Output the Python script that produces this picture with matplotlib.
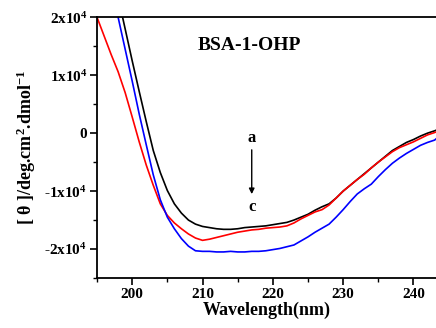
import matplotlib
matplotlib.use('Agg')
import matplotlib.pyplot as plt
from matplotlib.ticker import MultipleLocator, FixedLocator

plt.rcParams['font.family'] = 'Liberation Serif'
plt.rcParams['font.weight'] = 'bold'
plt.rcParams['mathtext.fontset'] = 'custom'
plt.rcParams['mathtext.rm'] = 'Liberation Serif:bold'
plt.rcParams['mathtext.it'] = 'Liberation Serif:bold'
plt.rcParams['mathtext.bf'] = 'Liberation Serif:bold'

# wavelength (nm)
wl = [195, 196, 197, 198, 199, 200, 201, 202, 203, 204, 205, 206, 207, 208, 209,
      210, 211, 212, 213, 214, 215, 216, 217, 218, 219, 220, 221, 222, 223, 224,
      225, 226, 227, 228, 229, 230, 231, 232, 233, 234, 235, 236, 237, 238, 239,
      240, 241, 242, 243, 243.2]

# ellipticity in units of 1e4 deg.cm2.dmol-1
curve_a = [4.0, 3.45, 2.9, 2.35, 1.8, 1.25, 0.72, 0.2, -0.3, -0.68, -0.99, -1.22, -1.38, -1.5, -1.57,
           -1.61, -1.63, -1.65, -1.66, -1.66, -1.65, -1.63, -1.62, -1.61, -1.6, -1.58, -1.56, -1.54, -1.5, -1.45,
           -1.4, -1.33, -1.27, -1.22, -1.12, -1.0, -0.9, -0.8, -0.7, -0.6, -0.5, -0.4, -0.3, -0.23, -0.16,
           -0.11, -0.05, 0.0, 0.04, 0.05]
curve_b = [2.0, 1.68, 1.36, 1.06, 0.7, 0.28, -0.15, -0.55, -0.9, -1.22, -1.42, -1.55, -1.65, -1.74, -1.81,
           -1.85, -1.83, -1.8, -1.77, -1.74, -1.71, -1.69, -1.67, -1.66, -1.64, -1.63, -1.62, -1.6, -1.55, -1.48,
           -1.42, -1.36, -1.32, -1.24, -1.12, -1.0, -0.9, -0.8, -0.71, -0.6, -0.5, -0.41, -0.32, -0.25, -0.2,
           -0.15, -0.09, -0.03, 0.01, 0.02]
curve_c = [3.65, 3.1, 2.55, 2.0, 1.45, 0.9, 0.33, -0.2, -0.72, -1.15, -1.45, -1.65, -1.82, -1.95, -2.03,
           -2.04, -2.04, -2.05, -2.05, -2.04, -2.05, -2.05, -2.04, -2.04, -2.03, -2.01, -1.99, -1.96, -1.93, -1.86,
           -1.79, -1.71, -1.64, -1.57, -1.45, -1.32, -1.18, -1.05, -0.96, -0.88, -0.75, -0.63, -0.52, -0.43, -0.35,
           -0.28, -0.21, -0.16, -0.12, -0.1]

y_ticks = [-2e4, -1e4, 0, 1e4, 2e4]
y_labels = [r'-2x10$^4$', r'-1x10$^4$', '0', r'1x10$^4$', r'2x10$^4$']

fig = plt.figure(figsize=(4.36, 3.28), dpi=100)
ax = fig.add_axes([0.2225, 0.1524, 0.7775, 0.795])

ax.plot(wl, [v * 1e4 for v in curve_a], color='black', lw=1.2)
ax.plot(wl, [v * 1e4 for v in curve_b], color='red', lw=1.2)
ax.plot(wl, [v * 1e4 for v in curve_c], color='blue', lw=1.2)

ax.set_xlim(195, 243.2)
ax.set_ylim(-2.5e4, 2e4)
ax.spines['right'].set_visible(False)
for s in ['left', 'bottom', 'top']:
    ax.spines[s].set_linewidth(1.3)

ax.xaxis.set_major_locator(MultipleLocator(10))
ax.xaxis.set_minor_locator(MultipleLocator(5))
ax.yaxis.set_major_locator(FixedLocator(y_ticks))
ax.yaxis.set_minor_locator(MultipleLocator(5000))
ax.set_yticklabels(y_labels)
ax.tick_params(which='major', direction='out', length=5, width=1.2, labelsize=11, pad=2)
ax.tick_params(which='minor', direction='out', length=3, width=1.0)

ax.set_xlabel('Wavelength(nm)', fontsize=13, fontweight='bold', labelpad=1)
ax.set_ylabel(r'[ $\theta$ ]/deg.cm$^2$.dmol$^{-1}$', fontsize=13, fontweight='bold', labelpad=5)

ax.text(216.7, 1.52e4, 'BSA-1-OHP', fontsize=14, fontweight='bold', ha='center', va='center')
ax.text(217, -0.08e4, 'a', fontsize=12, fontweight='bold', ha='center', va='center')
ax.annotate('', xy=(217, -1.1e4), xytext=(217, -0.24e4),
            arrowprops=dict(arrowstyle='-|>', color='black', lw=1.0, mutation_scale=8))
ax.text(217, -1.28e4, 'c', fontsize=12, fontweight='bold', ha='center', va='center')

fig.savefig('out.png', dpi=100)
